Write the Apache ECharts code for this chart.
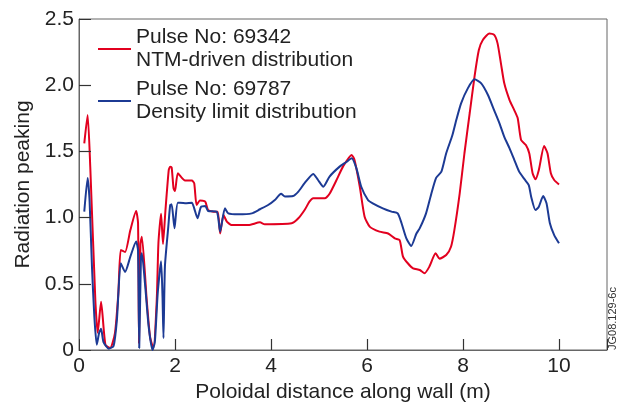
<!DOCTYPE html>
<html>
<head>
<meta charset="utf-8">
<script src="https://cdn.jsdelivr.net/npm/echarts@6/dist/echarts.min.js"></script>
<style>
  html, body { margin: 0; padding: 0; background: #fff; }
  #main { width: 621px; height: 412px; }
</style>
</head>
<body>
<div id="main"></div>
<script>
// Pulse 69342 (NTM-driven)
const redX = [0.11, 0.18, 0.235, 0.34, 0.39, 0.46, 0.55, 0.65, 0.75, 0.82, 0.87, 0.96, 1.07, 1.19, 1.23, 1.25, 1.28, 1.31,
  1.41, 1.48, 1.55, 1.62, 1.655, 1.71, 1.75, 1.80, 1.87, 1.90, 1.93, 1.97, 2.00, 2.06, 2.21, 2.35, 2.40, 2.45, 2.52,
  2.63, 2.69, 2.80, 2.89, 2.94, 3.01, 3.08, 3.18, 3.53, 3.77, 3.87, 4.43, 4.57, 4.70, 4.80, 4.88, 5.12, 5.22, 5.36,
  5.50, 5.68, 5.74, 5.85, 5.95, 6.06, 6.26, 6.44, 6.58, 6.68, 6.75, 6.85, 6.96, 7.10, 7.20, 7.30, 7.43, 7.51, 7.65,
  7.75, 7.82, 7.93, 8.03, 8.14, 8.24, 8.33, 8.41, 8.55, 8.65, 8.72, 8.79, 8.86, 8.97, 9.07, 9.14, 9.21, 9.31, 9.38,
  9.45, 9.51, 9.58, 9.69, 9.76, 9.83, 9.90, 10.0];
const redY = [1.56, 1.775, 1.38, 0.38, 0.13, 0.365, 0.04, 0.015, 0.13, 0.43, 0.755, 0.74, 0.906, 1.05, 0.96, 0.05, 0.80, 0.856,
  0.38, 0.10, 0.01, 0.38, 0.81, 1.03, 0.80, 1.05, 1.36, 1.385, 1.38, 1.22, 1.20, 1.335, 1.28, 1.28, 1.26, 1.095, 1.13,
  1.12, 1.057, 1.045, 1.045, 0.88, 1.02, 0.97, 0.944, 0.944, 0.964, 0.95, 0.957, 0.995, 1.057, 1.12, 1.146, 1.146, 1.18, 1.28,
  1.385, 1.473, 1.435, 1.233, 1.007, 0.93, 0.894, 0.88, 0.843, 0.83, 0.705, 0.655, 0.617, 0.604, 0.58, 0.63, 0.73, 0.69, 0.717,
  0.78, 0.906, 1.18, 1.486, 1.79, 2.065, 2.266, 2.34, 2.39, 2.38, 2.316, 2.165, 2.014, 1.888, 1.81, 1.75, 1.586, 1.548, 1.486,
  1.335, 1.29, 1.36, 1.54, 1.486, 1.335, 1.284, 1.25];

// Pulse 69787 (density limit)
const blueX = [0.11, 0.18, 0.22, 0.27, 0.32, 0.37, 0.42, 0.46, 0.51, 0.62, 0.72, 0.79, 0.87, 0.96, 1.07, 1.19, 1.23, 1.255, 1.29,
  1.31, 1.38, 1.45, 1.53, 1.58, 1.64, 1.71, 1.74, 1.76, 1.79, 1.86, 1.90, 1.93, 1.99, 2.06, 2.21, 2.35, 2.40, 2.47, 2.54,
  2.63, 2.69, 2.87, 2.94, 3.04, 3.11, 3.32, 3.60, 3.77, 3.94, 4.08, 4.21, 4.29, 4.46, 4.57, 4.70, 4.88, 4.98, 5.09, 5.22,
  5.43, 5.57, 5.68, 5.78, 5.88, 6.02, 6.12, 6.33, 6.51, 6.64, 6.72, 6.82, 6.92, 7.03, 7.10, 7.23, 7.34, 7.44, 7.55, 7.65,
  7.78, 7.86, 7.96, 8.10, 8.24, 8.38, 8.52, 8.65, 8.76, 8.86, 8.97, 9.07, 9.17, 9.28, 9.37, 9.42, 9.51, 9.58, 9.67, 9.74,
  9.81, 9.90, 10.0];
const blueY = [1.045, 1.30, 1.13, 0.63, 0.25, 0.04, 0.13, 0.16, 0.06, 0.01, 0.03, 0.23, 0.655, 0.59, 0.705, 0.82, 0.75, 0.015, 0.70,
  0.73, 0.48, 0.18, 0.0, 0.06, 0.43, 0.67, 0.40, 0.09, 0.63, 0.93, 1.095, 1.10, 0.92, 1.113, 1.108, 1.113, 1.07, 0.995, 1.08,
  1.088, 1.05, 1.045, 0.894, 1.07, 1.032, 1.025, 1.032, 1.063, 1.095, 1.133, 1.18, 1.16, 1.163, 1.196, 1.26, 1.33, 1.284, 1.233, 1.31,
  1.385, 1.42, 1.448, 1.372, 1.233, 1.133, 1.108, 1.07, 1.045, 1.032, 0.957, 0.843, 0.785, 0.88, 0.92, 1.032, 1.18, 1.30, 1.347, 1.486,
  1.624, 1.737, 1.863, 1.976, 2.044, 2.014, 1.926, 1.81, 1.712, 1.61, 1.523, 1.435, 1.347, 1.29, 1.246, 1.158, 1.057, 1.082, 1.163, 1.108,
  0.957, 0.868, 0.806];

// tick positions (drawn inside the frame)
const xTicks = [2, 4, 6, 8, 10];
const yTicks = [0.5, 1.0, 1.5, 2.0];

const seriesNames = ['Pulse No: 69342\nNTM-driven distribution', 'Pulse No: 69787\nDensity limit distribution'];
const seriesColors = ['#e2001f', '#1c3a94'];

function pairs(xs, ys) {
  return xs.map((x, i) => [x, ys[i]]);
}

// short inside tick segments, length given in axis units
const tickLines = xTicks.map(v => [{ coord: [v, 0] }, { coord: [v, 0.083] }])
  .concat(yTicks.map(v => [{ coord: [0, v] }, { coord: [0.25, v] }]));

const font = 'Liberation Sans, Arial, Helvetica, sans-serif';

let myChart = echarts.init(document.getElementById('main'));
myChart.setOption({
  animation: false,
  grid: {
    left: 79, right: 14, top: 19, bottom: 62,
    show: true, borderColor: '#666', borderWidth: 1
  },
  legend: {
    orient: 'vertical',
    left: 93, top: 21,
    icon: 'rect',
    itemWidth: 33, itemHeight: 2, itemGap: 6,
    data: seriesNames,
    textStyle: { fontFamily: font, fontSize: 21, lineHeight: 23, color: '#222' }
  },
  xAxis: {
    type: 'value',
    min: 0, max: 11, interval: 2,
    name: 'Poloidal distance along wall (m)',
    nameLocation: 'middle', nameGap: 25,
    nameTextStyle: { fontFamily: font, fontSize: 21, color: '#222' },
    axisLine: { show: true, onZero: false, lineStyle: { color: '#666', width: 1 } },
    axisTick: { show: true, inside: true, length: 11, lineStyle: { color: '#333', width: 1 } },
    axisLabel: {
      fontFamily: font, fontSize: 21, color: '#222', margin: 6,
      formatter: v => (v > 10 ? '' : String(v))
    },
    splitLine: { show: false }
  },
  yAxis: {
    type: 'value',
    min: 0, max: 2.5, interval: 0.5,
    name: 'Radiation peaking',
    nameLocation: 'middle', nameGap: 45,
    nameTextStyle: { fontFamily: font, fontSize: 21, color: '#222' },
    axisLine: { show: true, onZero: false, lineStyle: { color: '#666', width: 1 } },
    axisTick: { show: true, inside: true, length: 12, lineStyle: { color: '#333', width: 1 } },
    axisLabel: {
      fontFamily: font, fontSize: 21, color: '#222', margin: 5,
      formatter: v => (v === 0 ? '0' : v.toFixed(1))
    },
    splitLine: { show: false }
  },
  graphic: [{
    type: 'text',
    x: 618, y: 350,
    rotation: Math.PI / 2,
    style: {
      text: 'JG08.129-6c',
      fontFamily: font, fontSize: 11, fill: '#333',
      textAlign: 'left', textVerticalAlign: 'bottom'
    }
  }],
  series: [
    {
      name: seriesNames[0],
      type: 'line',
      data: pairs(redX, redY),
      symbol: 'none',
      smooth: 0.2,
      lineStyle: { color: seriesColors[0], width: 2 },
      itemStyle: { color: seriesColors[0] },
      markLine: {
        silent: true,
        animation: false,
        symbol: ['none', 'none'],
        label: { show: false },
        lineStyle: { color: '#333', width: 1.2, type: 'solid', opacity: 1 },
        emphasis: { disabled: true },
        data: tickLines
      }
    },
    {
      name: seriesNames[1],
      type: 'line',
      data: pairs(blueX, blueY),
      symbol: 'none',
      smooth: 0.2,
      lineStyle: { color: seriesColors[1], width: 2 },
      itemStyle: { color: seriesColors[1] }
    }
  ]
});
</script>
</body>
</html>
